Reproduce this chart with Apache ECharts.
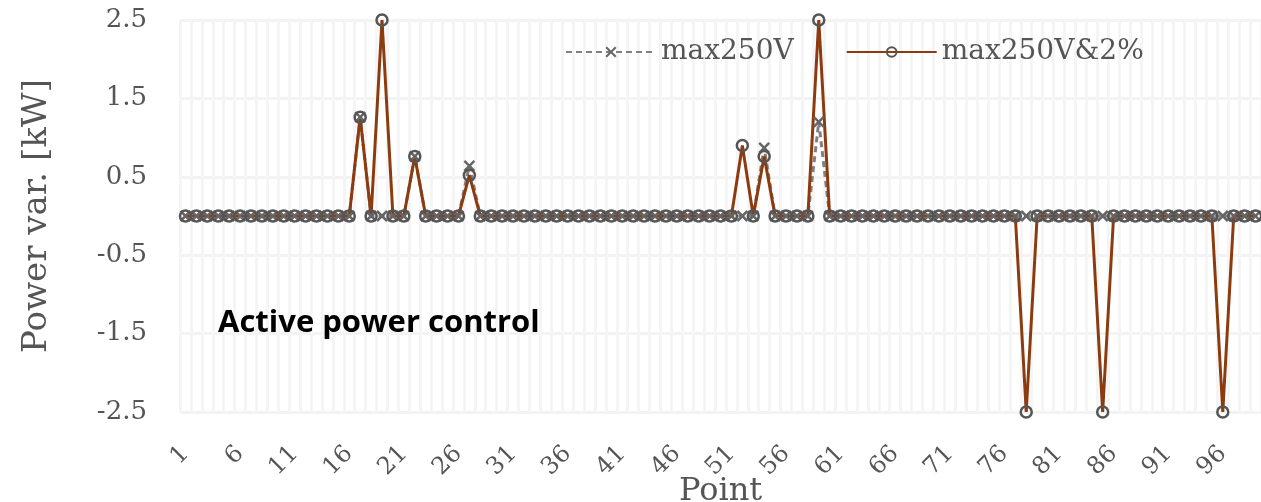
<!DOCTYPE html>
<html>
<head>
<meta charset="utf-8">
<script src="https://cdn.jsdelivr.net/npm/echarts@6/dist/echarts.min.js"></script>
<style>
  html, body { margin: 0; padding: 0; background: #fff; }
  #chart { width: 1261px; height: 502px; }
</style>
</head>
<body>
<div id="chart"></div>
<script>
// x categories: measurement points
var points = [];
for (var i = 1; i <= 99; i++) points.push(String(i));

// power variation [kW]
var max250V = [
  0, 0, 0, 0, 0, 0, 0, 0, 0, 0,
  0, 0, 0, 0, 0, 0, 1.26, 0, 0, 0,
  0, 0.76, 0, 0, 0, 0, 0.64, 0, 0, 0,
  0, 0, 0, 0, 0, 0, 0, 0, 0, 0,
  0, 0, 0, 0, 0, 0, 0, 0, 0, 0,
  0, 0, 0, 0.87, 0, 0, 0, 0, 1.2, 0,
  0, 0, 0, 0, 0, 0, 0, 0, 0, 0,
  0, 0, 0, 0, 0, 0, 0, 0, 0, 0,
  0, 0, 0, 0, 0, 0, 0, 0, 0, 0,
  0, 0, 0, 0, 0, 0, 0, 0, 0
];
var max250V2pct = [
  0, 0, 0, 0, 0, 0, 0, 0, 0, 0,
  0, 0, 0, 0, 0, 0, 1.26, 0, 2.5, 0,
  0, 0.76, 0, 0, 0, 0, 0.52, 0, 0, 0,
  0, 0, 0, 0, 0, 0, 0, 0, 0, 0,
  0, 0, 0, 0, 0, 0, 0, 0, 0, 0,
  0, 0.9, 0, 0.76, 0, 0, 0, 0, 2.5, 0,
  0, 0, 0, 0, 0, 0, 0, 0, 0, 0,
  0, 0, 0, 0, 0, 0, 0, -2.5, 0, 0,
  0, 0, 0, 0, -2.5, 0, 0, 0, 0, 0,
  0, 0, 0, 0, 0, -2.5, 0, 0, 0
];
// y tick labels
var yTicks = [-2.5, -1.5, -0.5, 0.5, 1.5, 2.5];

var serif = 'DejaVu Serif';
var crossPath = 'path://M0,0L10,10M10,0L0,10';

var chart = echarts.init(document.getElementById('chart'));
chart.setOption({
  animation: false,
  textStyle: { fontFamily: serif },
  title: {
    text: 'Active power control',
    left: 213,
    top: 303,
    textStyle: {
      fontFamily: 'Open Sans',
      fontWeight: 'bold',
      fontSize: 31,
      color: '#000'
    }
  },
  grid: {
    left: 180,
    right: 0,
    top: 20,
    bottom: 90,
    outerBoundsMode: 'none'
  },
  legend: {
    left: 560,
    top: 33,
    itemWidth: 90,
    itemHeight: 12,
    itemGap: 52,
    textStyle: { fontFamily: serif, fontSize: 28, color: '#555' },
    data: ['max250V', 'max250V&2%']
  },
  xAxis: {
    type: 'category',
    data: points,
    boundaryGap: true,
    name: 'Point',
    nameLocation: 'middle',
    nameGap: 64,
    nameMoveOverlap: false,
    nameTextStyle: { fontFamily: serif, fontSize: 32, color: '#555' },
    axisLine: { show: false },
    axisTick: { show: false },
    axisLabel: {
      interval: 4,
      rotate: 45,
      margin: 38,
      fontFamily: serif,
      fontSize: 24,
      color: '#555'
    },
    splitLine: {
      show: true,
      interval: 0,
      lineStyle: { color: '#f5f5f5', width: 3 }
    }
  },
  yAxis: {
    type: 'value',
    min: yTicks[0],
    max: yTicks[yTicks.length - 1],
    interval: 1,
    name: 'Power var. [kW]',
    nameLocation: 'middle',
    nameGap: 126,
    nameTextStyle: { fontFamily: serif, fontSize: 34, color: '#555' },
    axisLine: { show: false },
    axisTick: { show: false },
    axisLabel: {
      margin: 33,
      fontFamily: serif,
      fontSize: 26,
      color: '#555',
      formatter: function (v) { return v.toFixed(1); }
    },
    splitLine: {
      show: true,
      lineStyle: { color: '#f3f3f3', width: 3 }
    }
  },
  series: [
    {
      name: 'max250V',
      type: 'line',
      data: max250V,
      showAllSymbol: true,
      symbol: crossPath,
      symbolSize: 10,
      lineStyle: { color: '#808080', width: 3, type: [6, 4] },
      itemStyle: { color: '#666', borderColor: '#666', borderWidth: 2.5 }
    },
    {
      name: 'max250V&2%',
      type: 'line',
      data: max250V2pct,
      showAllSymbol: true,
      symbol: 'circle',
      symbolSize: 11,
      lineStyle: { color: '#8c3b0f', width: 3 },
      itemStyle: { color: 'rgba(255,255,255,0)', borderColor: '#555', borderWidth: 2.5 }
    }
  ]
});
</script>
</body>
</html>
